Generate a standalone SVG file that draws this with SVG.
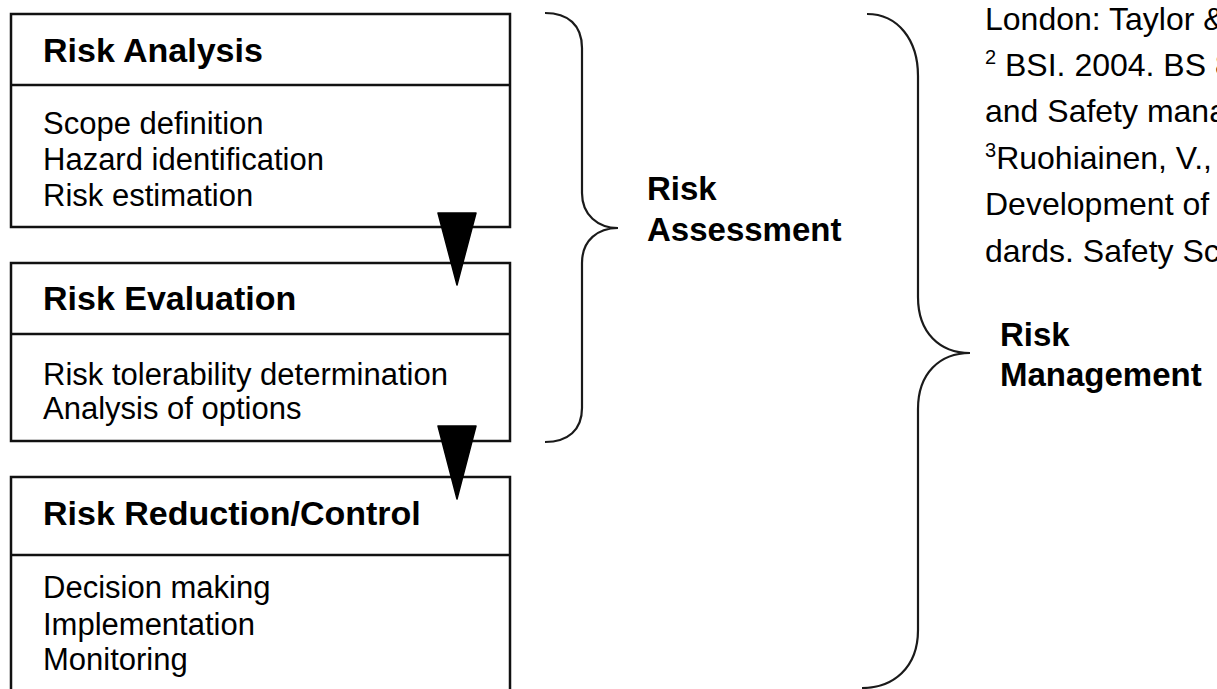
<svg xmlns="http://www.w3.org/2000/svg" width="1217" height="689" viewBox="0 0 1217 689">
  <style>
    .box { fill: #ffffff; stroke: #111111; stroke-width: 2.5; }
    .rule { stroke: #111111; stroke-width: 2.5; }
    .head { font-family: "Liberation Sans", Arial, sans-serif; font-weight: bold; font-size: 34px; fill: #000000; }
    .body { font-family: "Liberation Sans", Arial, sans-serif; font-size: 31px; fill: #000000; }
    .label { font-family: "Liberation Sans", Arial, sans-serif; font-weight: bold; font-size: 33px; fill: #000000; }
    .ref { font-family: "Liberation Sans", Arial, sans-serif; font-size: 32px; fill: #000000; }
    .sup { font-size: 20px; }
    .brace { fill: none; stroke: #1a1a1a; stroke-width: 2.2; }
    .arrow { fill: #000000; stroke: #000000; stroke-width: 1.5; stroke-linejoin: round; }
  </style>
  <rect width="1217" height="689" fill="#ffffff"/>

  <!-- Stage 1 -->
  <g id="risk-analysis">
    <rect class="box" x="11" y="14" width="499" height="213"/>
    <line class="rule" x1="11" y1="85" x2="510" y2="85"/>
    <text class="head" x="43" y="62">Risk Analysis</text>
    <text class="body" x="43" y="134">Scope definition</text>
    <text class="body" x="43" y="170">Hazard identification</text>
    <text class="body" x="43" y="206">Risk estimation</text>
  </g>

  <!-- Stage 2 -->
  <g id="risk-evaluation">
    <rect class="box" x="11" y="263" width="499" height="178"/>
    <line class="rule" x1="11" y1="334" x2="510" y2="334"/>
    <text class="head" x="43" y="310">Risk Evaluation</text>
    <text class="body" x="43" y="385">Risk tolerability determination</text>
    <text class="body" x="43" y="419">Analysis of options</text>
  </g>

  <!-- Stage 3 (runs off the bottom edge) -->
  <g id="risk-reduction">
    <rect class="box" x="11" y="477" width="499" height="220"/>
    <line class="rule" x1="11" y1="555" x2="510" y2="555"/>
    <text class="head" x="43" y="525">Risk Reduction/Control</text>
    <text class="body" x="43" y="598">Decision making</text>
    <text class="body" x="43" y="635">Implementation</text>
    <text class="body" x="43" y="670">Monitoring</text>
  </g>

  <!-- Flow arrows between stages -->
  <g id="connectors">
    <polygon class="arrow" points="438,213 476,213 457,285"/>
    <polygon class="arrow" points="438,426 476,426 457,499"/>
  </g>

  <!-- Grouping braces -->
  <g id="risk-assessment">
    <path class="brace" d="M545,13 C568,13 582,25 582,48 L582,193 C582,215 598,228 618,228 C598,228 582,240 582,263 L582,408 C582,430 568,442 545,442"/>
    <text class="label" x="647" y="200">Risk</text>
    <text class="label" x="647" y="241">Assessment</text>
  </g>

  <g id="risk-management">
    <path class="brace" d="M867,14 C898,14 918,40 918,76 L918,297 C918,333 940,353 970,353 C940,353 918,373 918,409 L918,630 C918,668 893,688 862,688"/>
    <text class="label" x="1000" y="346">Risk</text>
    <text class="label" x="1000" y="386">Management</text>
  </g>

  <!-- Reference notes (lines run past the right edge) -->
  <g id="references">
    <text class="ref" x="985" y="30">London: Taylor &amp;</text>
    <text class="ref" x="985" y="76"><tspan class="sup" dy="-12">2</tspan><tspan dy="12"> BSI. 2004. BS 8</tspan></text>
    <text class="ref" x="985" y="122">and Safety mana</text>
    <text class="ref" x="985" y="169"><tspan class="sup" dy="-12">3</tspan><tspan dy="12">Ruohiainen, V.,</tspan></text>
    <text class="ref" x="985" y="215">Development of</text>
    <text class="ref" x="985" y="262">dards. Safety Sc</text>
  </g>
</svg>
